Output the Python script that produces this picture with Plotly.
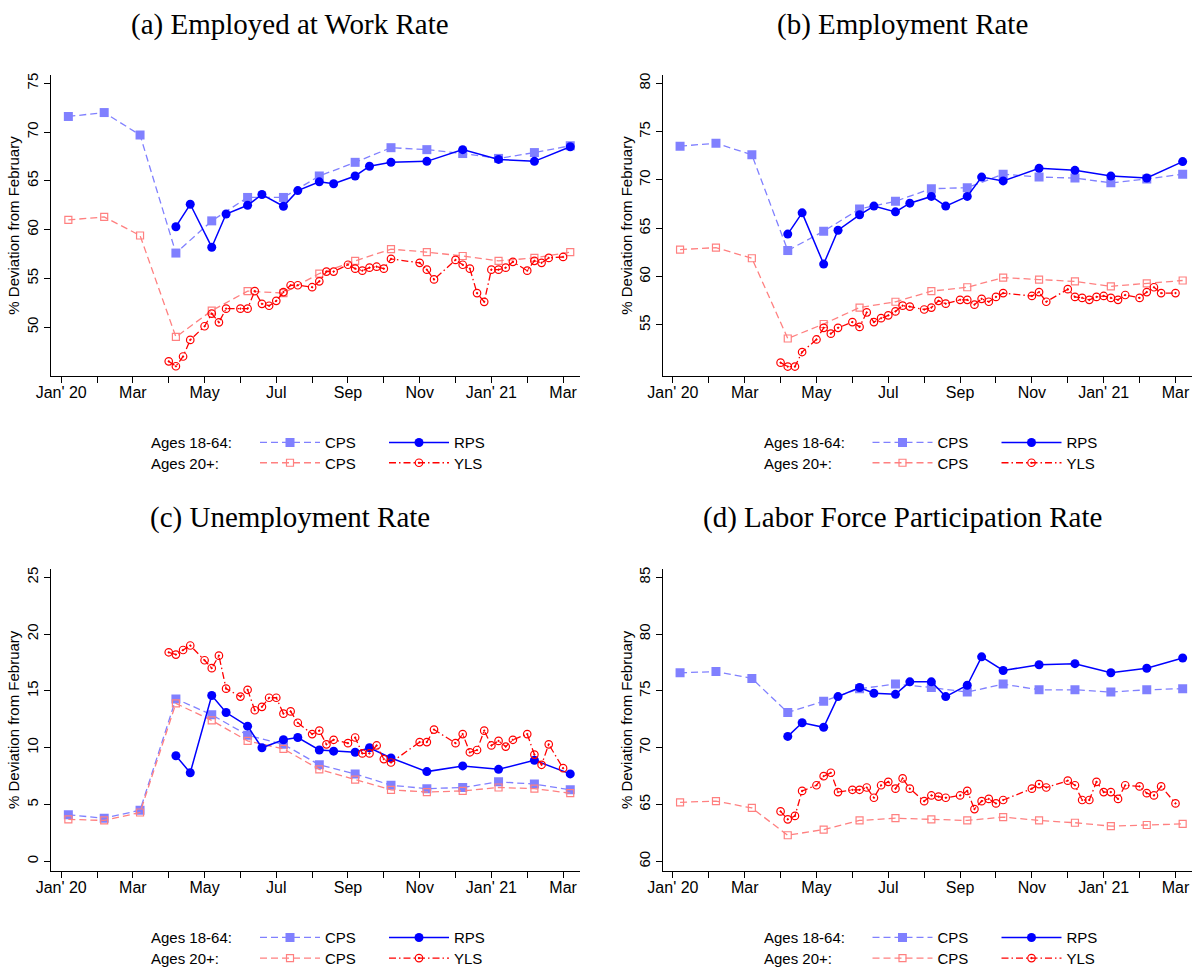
import plotly.graph_objects as go

W, H = 1192, 968

# ---------------- data ----------------
# time index: 5 periods per month, 0 = start of Jan 2020
cps_t = [1, 6, 11, 16, 21, 26, 31, 36, 41, 46, 51, 56, 61, 66, 71]
rps_t = [16, 18, 21, 23, 26, 28, 31, 33, 36, 38, 41, 43, 46, 51, 56, 61, 66, 71]
yls_t = [15, 16, 17, 18, 20, 21, 22, 23, 25, 26, 27, 28, 29, 30, 31, 32, 33, 35, 36, 37, 38,
         40, 41, 42, 43, 44, 45, 46, 50, 51, 52, 55, 56, 57, 58, 59, 60, 61, 62, 63, 65, 66,
         67, 68, 70]

tick_t = [0, 5, 10, 15, 20, 25, 30, 35, 40, 45, 50, 55, 60, 65, 70]
tick_labels = ["Jan' 20", "", "Mar", "", "May", "", "Jul", "", "Sep", "", "Nov", "",
               "Jan' 21", "", "Mar"]

titles = ["(a) Employed at Work Rate", "(b) Employment Rate",
          "(c) Unemployment Rate", "(d) Labor Force Participation Rate"]

# (a) Employed at work rate
a_cps1864 = [71.6, 72.0, 69.7, 57.6, 60.9, 63.3, 63.3, 65.5, 66.9, 68.4, 68.2, 67.8, 67.3, 67.9, 68.6]
a_cps20 = [61.0, 61.3, 59.4, 49.0, 51.7, 53.7, 53.5, 55.5, 56.8, 58.0, 57.7, 57.3, 56.8, 57.1, 57.7]
a_rps = [60.3, 62.6, 58.2, 61.6, 62.5, 63.6, 62.4, 64.0, 64.9, 64.7, 65.5, 66.5, 66.9, 67.0, 68.2,
         67.2, 67.0, 68.5]
a_yls = [46.5, 46.0, 47.0, 48.7, 50.1, 51.4, 50.5, 51.9, 51.9, 51.9, 53.7, 52.4, 52.2, 52.7, 53.6,
         54.3, 54.3, 54.1, 54.7, 55.7, 55.7, 56.4, 56.0, 55.8, 56.1, 56.2, 56.0, 57.0, 56.6, 55.9,
         54.9, 56.9, 56.4, 56.0, 53.5, 52.6, 55.9, 55.9, 56.1, 56.7, 55.8, 56.8, 56.6, 57.1, 57.2]

# (b) Employment rate
b_cps1864 = [73.5, 73.8, 72.6, 62.7, 64.7, 67.0, 67.8, 69.1, 69.2, 70.6, 70.3, 70.2, 69.7, 70.1, 70.6]
b_cps20 = [62.8, 63.0, 61.9, 53.6, 55.1, 56.8, 57.4, 58.5, 58.9, 59.9, 59.7, 59.5, 59.0, 59.3, 59.6]
b_rps = [64.4, 66.6, 61.3, 64.8, 66.4, 67.3, 66.7, 67.6, 68.3, 67.3, 68.3, 70.3, 69.9, 71.2, 71.0,
         70.4, 70.2, 71.9]
b_yls = [51.1, 50.7, 50.7, 52.2, 53.5, 54.7, 54.1, 54.7, 55.3, 54.8, 56.3, 55.3, 55.7, 56.0, 56.4,
         57.0, 56.9, 56.6, 56.8, 57.5, 57.2, 57.6, 57.6, 57.1, 57.7, 57.4, 57.9, 58.3, 58.0, 58.4,
         57.4, 58.7, 57.9, 57.8, 57.6, 57.9, 58.0, 57.8, 57.6, 58.1, 57.8, 58.4, 58.9, 58.3, 58.3]

# (c) Unemployment rate
c_cps1864 = [4.1, 3.8, 4.5, 14.3, 12.9, 11.1, 10.3, 8.5, 7.7, 6.7, 6.4, 6.5, 7.0, 6.8, 6.3]
c_cps20 = [3.7, 3.6, 4.3, 13.9, 12.4, 10.6, 9.9, 8.1, 7.2, 6.3, 6.1, 6.2, 6.5, 6.4, 6.0]
c_rps = [9.3, 7.8, 14.6, 13.1, 11.9, 10.0, 10.7, 10.9, 9.8, 9.7, 9.6, 10.0, 9.1, 7.9, 8.4, 8.1,
         8.9, 7.7]
c_yls = [18.4, 18.2, 18.6, 19.0, 17.7, 17.0, 18.1, 15.2, 14.5, 15.1, 13.3, 13.6, 14.4, 14.4, 13.0,
         13.2, 12.2, 11.2, 11.5, 10.3, 10.7, 10.4, 10.9, 9.5, 9.5, 10.2, 9.0, 8.7, 10.5, 10.5, 11.6,
         10.4, 11.2, 9.6, 9.8, 11.5, 10.2, 10.6, 10.1, 10.7, 11.2, 9.4, 8.5, 10.3, 8.2]

# (d) Labor force participation rate
d_cps1864 = [76.6, 76.7, 76.1, 73.1, 74.1, 75.2, 75.6, 75.3, 74.9, 75.6, 75.1, 75.1, 74.9, 75.1, 75.2]
d_cps20 = [65.2, 65.3, 64.7, 62.3, 62.8, 63.6, 63.8, 63.7, 63.6, 63.9, 63.6, 63.4, 63.1, 63.2, 63.3]
d_rps = [71.0, 72.2, 71.8, 74.5, 75.3, 74.8, 74.7, 75.8, 75.8, 74.5, 75.5, 78.0, 76.8, 77.3, 77.4,
         76.6, 77.0, 77.9]
d_yls = [64.4, 63.7, 64.0, 66.2, 66.7, 67.5, 67.8, 66.1, 66.3, 66.3, 66.5, 65.6, 66.7, 67.0, 66.4,
         67.3, 66.4, 65.3, 65.8, 65.7, 65.6, 65.8, 66.2, 64.6, 65.3, 65.5, 65.1, 65.4, 66.4, 66.8,
         66.5, 67.1, 66.7, 65.4, 65.4, 67.0, 66.1, 66.1, 65.5, 66.7, 66.6, 66.0, 65.8, 66.6, 65.1]

yticks = [[50, 55, 60, 65, 70, 75], [55, 60, 65, 70, 75, 80],
          [0, 5, 10, 15, 20, 25], [60, 65, 70, 75, 80, 85]]
yranges = [[45.0, 75.85], [49.72, 80.86], [-0.82, 25.73], [59.18, 85.73]]

panels = [(a_cps1864, a_cps20, a_rps, a_yls), (b_cps1864, b_cps20, b_rps, b_yls),
          (c_cps1864, c_cps20, c_rps, c_yls), (d_cps1864, d_cps20, d_rps, d_yls)]

# ---------------- layout geometry (pixels) ----------------
col_x = [(51, 580), (663.4, 1192)]
row_y = [(75, 376), (569, 870.7)]
xranges = [[-1.42, 72.36], [-1.32, 72.3]]
title_cx = [289.5, 902]
title_cy = [25, 517]
leg_rows = [(442.7, 463.0), (937.7, 958.3)]
leg_label_x = [149, 761.7]
leg_item_x = [257, 869.5]

C_CPS1 = "#8080ff"
C_RPS = "#0000ff"
C_CPS2 = "#ff8080"
C_YLS = "#ff0000"
SANS = "Liberation Sans, Arial, Helvetica, sans-serif"

fig = go.Figure()
layout = dict(template="none", width=W, height=H,
              margin=dict(l=0, r=0, t=0, b=0, pad=0, autoexpand=False),
              plot_bgcolor="white", paper_bgcolor="white",
              font=dict(family=SANS, color="black"), annotations=[])

for i, (cps1, cps2, rps, yls) in enumerate(panels):
    r, c = divmod(i, 2)
    n = "" if i == 0 else str(i + 1)
    xa, ya = "x" + n, "y" + n
    leg1 = "legend" if i == 0 else "legend" + str(2 * i + 1)
    leg2 = "legend" + str(2 * i + 2)

    fig.add_trace(go.Scatter(x=cps_t, y=cps1, xaxis=xa, yaxis=ya, name="CPS", legend=leg1,
                             mode="lines+markers",
                             line=dict(color=C_CPS1, width=1.3, dash="7px,4px"),
                             marker=dict(symbol="square", size=9, color=C_CPS1)))
    fig.add_trace(go.Scatter(x=cps_t, y=cps2, xaxis=xa, yaxis=ya, name="CPS", legend=leg2,
                             mode="lines+markers",
                             line=dict(color=C_CPS2, width=1.3, dash="7px,4px"),
                             marker=dict(symbol="square-open", size=7, color=C_CPS2,
                                         line=dict(width=1.2, color=C_CPS2))))
    fig.add_trace(go.Scatter(x=rps_t, y=rps, xaxis=xa, yaxis=ya, name="RPS", legend=leg1,
                             mode="lines+markers",
                             line=dict(color=C_RPS, width=1.5),
                             marker=dict(symbol="circle", size=9, color=C_RPS)))
    fig.add_trace(go.Scatter(x=yls_t, y=yls, xaxis=xa, yaxis=ya, name="YLS", legend=leg2,
                             mode="lines+markers",
                             line=dict(color=C_YLS, width=1.3, dash="7px,3px,1.5px,3px"),
                             marker=dict(symbol="circle-open-dot", size=7.5, color=C_YLS,
                                         line=dict(width=1.2, color=C_YLS))))

    x0, x1 = col_x[c]
    y0, y1 = row_y[r]
    layout["xaxis" + n] = dict(domain=[x0 / W, x1 / W], range=xranges[c], anchor=ya,
                               automargin=False,
                               tickmode="array", tickvals=tick_t, ticktext=tick_labels,
                               showline=True, linecolor="black", linewidth=1,
                               ticks="outside", ticklen=6, tickcolor="black", tickwidth=1,
                               ticklabelstandoff=-4,
                               showgrid=False, zeroline=False,
                               tickfont=dict(size=16, family=SANS, color="black"))
    layout["yaxis" + n] = dict(domain=[1 - y1 / H, 1 - y0 / H], range=yranges[i], anchor=xa,
                               automargin=False,
                               tickmode="array", tickvals=yticks[i], tickangle=-90,
                               showline=True, linecolor="black", linewidth=1,
                               ticks="outside", ticklen=6, tickcolor="black", tickwidth=1,
                               showgrid=False, zeroline=False,
                               tickfont=dict(size=15, family=SANS, color="black"),
                               title=dict(text="% Deviation from February",
                                          font=dict(size=15, family=SANS, color="black"),
                                          standoff=0))

    layout["annotations"].append(dict(text=titles[i], xref="paper", yref="paper",
                                      x=title_cx[c] / W, y=1 - title_cy[r] / H,
                                      xanchor="center", yanchor="middle", showarrow=False,
                                      font=dict(family="Liberation Serif, Times New Roman, serif",
                                                size=29, color="black")))
    for k, (lab, ly) in enumerate(zip(["Ages 18-64:", "Ages 20+:"], leg_rows[r])):
        layout["annotations"].append(dict(text=lab, xref="paper", yref="paper",
                                          x=leg_label_x[c] / W, y=1 - ly / H,
                                          xanchor="left", yanchor="middle", showarrow=False,
                                          font=dict(size=15, family=SANS, color="black")))
        lname = leg1 if k == 0 else leg2
        layout[lname] = dict(orientation="h", xref="container", yref="container",
                             x=(leg_item_x[c] - 2) / W, y=1 - ly / H,
                             xanchor="left", yanchor="middle", itemwidth=60,
                             entrywidth=54, entrywidthmode="pixels",
                             bgcolor="rgba(0,0,0,0)", borderwidth=0,
                             font=dict(size=15, family=SANS, color="black"),
                             tracegroupgap=0)

layout["showlegend"] = True
fig.update_layout(**layout)
fig.write_html("out.html", config={"displayModeBar": False},
               post_script="document.body.style.margin='0';document.body.style.overflow='hidden';")
